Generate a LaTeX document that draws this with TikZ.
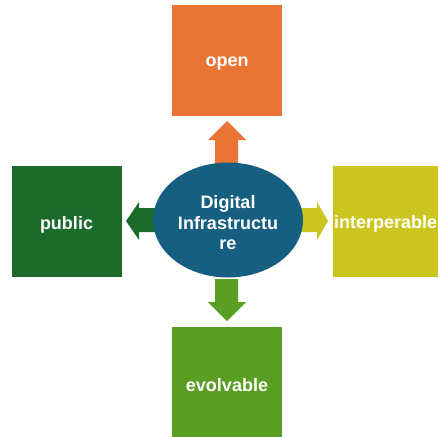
\documentclass[tikz,border=0pt]{standalone}
\usepackage{fontspec}
\setmainfont{Liberation Sans}
\usetikzlibrary{shapes.geometric}
\begin{document}
\begin{tikzpicture}[x=1pt,y=-1pt,
  label font/.style={text=white,font=\fontsize{18}{20.5}\selectfont\bfseries},
  box/.style={minimum width=110pt,minimum height=111pt,inner sep=0pt},
  boxtext/.style={label={[label font,yshift=-3pt,align=center]center:#1}}]
\useasboundingbox (0,0) rectangle (438,436);
\definecolor{corange}{HTML}{E97434}
\definecolor{cdgreen}{HTML}{1C6B2A}
\definecolor{colive}{HTML}{CCC520}
\definecolor{cgreen}{HTML}{5A9E24}
\definecolor{cblue}{HTML}{175F80}
\node[box,fill=corange,boxtext=open] (open) at (227,60.5) {};
\node[box,fill=cdgreen,boxtext=public] (public) at (66.5,221.5) {};
\node[box,fill=colive,anchor=west] (interp) at (333,221.5) {};
\node[label font,anchor=west,inner sep=0pt] (interptext) at (334,223.5) {interperable};
\node[box,fill=cgreen,boxtext=evolvable] (evol) at (227,382.5) {};
% arrows
\fill[corange] (215,165) -- (215,140) -- (208,140) -- (227,121) -- (246,140) -- (238,140) -- (238,165) -- cycle;
\fill[cgreen] (215,279) -- (215,302) -- (208,302) -- (227,321) -- (246,302) -- (238,302) -- (238,279) -- cycle;
\fill[cdgreen] (156,208) -- (139,208) -- (139,202) -- (126,221) -- (139,240) -- (139,232) -- (156,232) -- cycle;
\fill[colive] (300,208) -- (317,208) -- (317,202) -- (328,221) -- (317,240) -- (317,232) -- (300,232) -- cycle;
\node[ellipse,fill=cblue,minimum width=150pt,minimum height=115pt,inner sep=0pt,boxtext={Digital\\Infrastructu\\re}] (core) at (228,220) {};
\end{tikzpicture}
\end{document}
